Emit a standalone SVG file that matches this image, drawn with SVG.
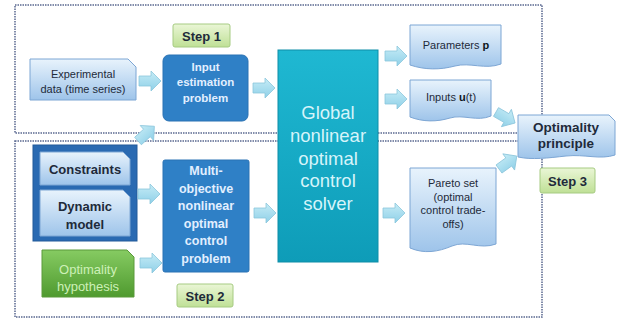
<svg xmlns="http://www.w3.org/2000/svg" width="620" height="324" viewBox="0 0 620 324">
<defs>
<linearGradient id="gDoc" x1="0" y1="0" x2="0" y2="1"><stop offset="0" stop-color="#e8f3fc"/><stop offset="1" stop-color="#9ec4ea"/></linearGradient>
<linearGradient id="gSolver" x1="0" y1="0" x2="0" y2="1"><stop offset="0" stop-color="#1fb8d2"/><stop offset="1" stop-color="#0e9cb8"/></linearGradient>
<linearGradient id="gGreen" x1="0" y1="0" x2="0" y2="1"><stop offset="0" stop-color="#86cb62"/><stop offset="1" stop-color="#4f9a2f"/></linearGradient>
<linearGradient id="gStep" x1="0" y1="0" x2="0" y2="1"><stop offset="0" stop-color="#eaf6d6"/><stop offset="1" stop-color="#bfe096"/></linearGradient>
<linearGradient id="gArrow" x1="0" y1="0" x2="0" y2="1"><stop offset="0" stop-color="#c6ecf6"/><stop offset="1" stop-color="#8fd0e8"/></linearGradient>
<path id="arr" d="M0,-5 H12 V-10 L22,0 L12,10 V5 H0 Z" fill="url(#gArrow)" stroke="#8cc6dc" stroke-width="0.8"/>
<style>
.frame{fill:none;stroke:#5a6890;stroke-width:1.5;stroke-dasharray:1.5 1}
.doc{fill:url(#gDoc);stroke:#7da6d4;stroke-width:1}
.blue{fill:#2f80c6;stroke:#2a72b4;stroke-width:1}
.step{fill:url(#gStep);stroke:#a6cb82;stroke-width:1}
.t{font-family:"Liberation Sans",Arial,sans-serif;text-anchor:middle}
.dk{fill:#1e2a3a}
.lt{fill:#e2efff;font-weight:bold}
</style>
</defs>

<g id="frames">
<rect class="frame" x="15" y="5" width="527" height="128"/>
<rect class="frame" x="15" y="141" width="527" height="176"/>
</g>

<g id="step1"><rect class="step" x="173" y="24" width="57" height="23" rx="2"/><text class="t dk" x="201.5" y="40.5" font-size="13" font-weight="bold">Step 1</text></g>
<g id="step2"><rect class="step" x="177" y="284" width="56" height="23" rx="2"/><text class="t dk" x="205" y="300.5" font-size="13" font-weight="bold">Step 2</text></g>
<g id="step3"><rect class="step" x="540" y="168" width="55" height="25" rx="2"/><text class="t dk" x="567.5" y="185.5" font-size="13" font-weight="bold">Step 3</text></g>

<g id="experimental">
<path class="doc" d="M30,59 H128 L136,67 V100 H30 Z"/>
<text class="t dk" x="83" y="78" font-size="11">Experimental</text>
<text class="t dk" x="83" y="93" font-size="11">data (time series)</text>
</g>

<g id="input-estimation">
<rect class="blue" x="163" y="55" width="85" height="66" rx="6"/>
<text class="t lt" x="205.5" y="71" font-size="11.5">Input</text>
<text class="t lt" x="205.5" y="86" font-size="11.5">estimation</text>
<text class="t lt" x="205.5" y="102" font-size="11.5">problem</text>
</g>

<g id="model-group">
<rect x="33" y="145" width="104" height="96" fill="#2a6ab2" stroke="#225a9a" stroke-width="1"/>
<g id="constraints">
<path class="doc" d="M40,152 H123 L130,159 V185 H40 Z"/>
<text class="t dk" x="85" y="174" font-size="13" font-weight="bold">Constraints</text>
</g>
<g id="dynamic-model">
<path class="doc" d="M40,190 H123 L130,197 V236 H40 Z"/>
<text class="t dk" x="85" y="211" font-size="13" font-weight="bold">Dynamic</text>
<text class="t dk" x="85" y="229" font-size="13" font-weight="bold">model</text>
</g>
</g>

<g id="optimality-hypothesis">
<path d="M42,250 H127 L134,257 V297 H42 Z" fill="url(#gGreen)" stroke="#5a9a3a" stroke-width="1"/>
<text class="t" x="88" y="274" font-size="13" fill="#cdf0b8">Optimality</text>
<text class="t" x="88" y="291" font-size="13" fill="#cdf0b8">hypothesis</text>
</g>

<g id="multi-objective">
<rect class="blue" x="163" y="160" width="86" height="112" rx="2"/>
<text class="t lt" x="206" y="174.5" font-size="12.5">Multi-</text>
<text class="t lt" x="206" y="192.5" font-size="12.5">objective</text>
<text class="t lt" x="206" y="209.5" font-size="12.5">nonlinear</text>
<text class="t lt" x="206" y="227.5" font-size="12.5">optimal</text>
<text class="t lt" x="206" y="244.5" font-size="12.5">control</text>
<text class="t lt" x="206" y="262.5" font-size="12.5">problem</text>
</g>

<g id="solver">
<rect x="278" y="50" width="100" height="212" fill="url(#gSolver)" stroke="#0f8ea8" stroke-width="1"/>
<text class="t" x="328" y="118.5" font-size="18.5" fill="#d6f4fa">Global</text>
<text class="t" x="328" y="141.5" font-size="18.5" fill="#d6f4fa">nonlinear</text>
<text class="t" x="328" y="164.5" font-size="18.5" fill="#d6f4fa">optimal</text>
<text class="t" x="328" y="187" font-size="18.5" fill="#d6f4fa">control</text>
<text class="t" x="328" y="209.5" font-size="18.5" fill="#d6f4fa">solver</text>
</g>

<g id="parameters">
<path class="doc" d="M410,25 H501 V64 C485,70 470,62 455,66 C440,70 425,70 410,65 Z"/>
<text class="t dk" x="456" y="49" font-size="11">Parameters <tspan font-weight="bold" fill="#0d1520">p</tspan></text>
</g>

<g id="inputs">
<path class="doc" d="M410,80 H491 V116 C477,122 463,114 450,118 C437,122 423,122 410,117 Z"/>
<text class="t dk" x="451" y="101" font-size="11">Inputs <tspan font-weight="bold" fill="#0d1520">u</tspan>(t)</text>
</g>

<g id="optimality-principle">
<path class="doc" d="M518,115 H609 L615,121 V155 C600,160 585,154 566,156 C548,158 532,160 518,157 Z"/>
<text class="t dk" x="566" y="131.5" font-size="13.5" font-weight="bold">Optimality</text>
<text class="t dk" x="566" y="148" font-size="13.5" font-weight="bold">principle</text>
</g>

<g id="pareto">
<path class="doc" d="M410,168 H496 V244 C480,250 466,240 452,246 C438,252 424,254 410,248 Z"/>
<text class="t dk" x="453" y="187" font-size="11">Pareto set</text>
<text class="t dk" x="453" y="201" font-size="11">(optimal</text>
<text class="t dk" x="453" y="214" font-size="11">control trade-</text>
<text class="t dk" x="453" y="228" font-size="11">offs)</text>
</g>

<g id="connectors">
<use href="#arr" transform="translate(139,81)"/>
<use href="#arr" transform="translate(253,88)"/>
<use href="#arr" transform="translate(385,56)"/>
<use href="#arr" transform="translate(385,99)"/>
<use href="#arr" transform="translate(383,213)"/>
<use href="#arr" transform="translate(254,213)"/>
<use href="#arr" transform="translate(138,194)"/>
<use href="#arr" transform="translate(140,263)"/>
<use href="#arr" transform="translate(138,141) rotate(-42)"/>
<use href="#arr" transform="translate(496,112) rotate(30)"/>
<use href="#arr" transform="translate(499,169) rotate(-36)"/>
</g>
</svg>
